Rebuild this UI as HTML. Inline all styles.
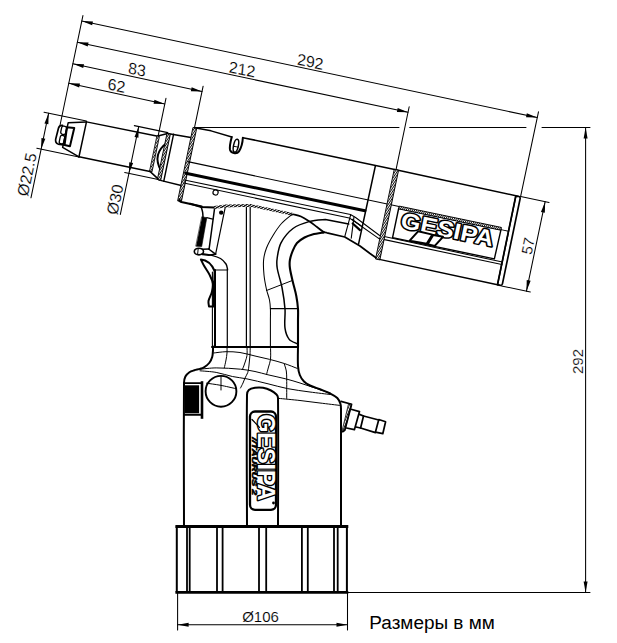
<!DOCTYPE html>
<html><head><meta charset="utf-8">
<style>
html,body{margin:0;padding:0;background:#fff;width:617px;height:643px;overflow:hidden}
svg{display:block}
.t{font-family:"Liberation Sans",sans-serif;font-size:15px;fill:#000;stroke:#fff;stroke-width:0.15px}
</style></head>
<body>
<svg width="617" height="643" viewBox="0 0 617 643" fill="none" stroke="#000" stroke-linecap="round" stroke-linejoin="round">
<defs>
<pattern id="hat" width="1.8" height="40" patternUnits="userSpaceOnUse" patternTransform="rotate(22)">
<rect width="1.8" height="40" fill="#fff" stroke="none"/><rect x="0" y="0" width="0.85" height="40" fill="#000" stroke="none"/>
</pattern>
<pattern id="hat2" width="2.2" height="40" patternUnits="userSpaceOnUse" patternTransform="rotate(58)">
<rect width="2.2" height="40" fill="#fff" stroke="none"/><rect x="0" y="0" width="1.3" height="40" fill="#000" stroke="none"/>
</pattern>
</defs>

<g transform="translate(81.9,20.5) rotate(11.8)" stroke-width="1.05">
<line x1="0" y1="0.6" x2="465.5" y2="1.9"/>
<polygon points="0.00,0.60 11.01,-1.37 10.99,2.63" fill="#000" stroke="none"/>
<polygon points="465.50,1.90 454.49,3.87 454.51,-0.13" fill="#000" stroke="none"/>
<line x1="0" y1="22.2" x2="338" y2="23.1"/>
<polygon points="0.00,22.20 11.01,20.23 10.99,24.23" fill="#000" stroke="none"/>
<polygon points="338.00,23.10 326.99,25.07 327.01,21.07" fill="#000" stroke="none"/>
<line x1="0" y1="44.2" x2="132.1" y2="45"/>
<polygon points="0.00,44.20 11.01,42.27 10.99,46.27" fill="#000" stroke="none"/>
<polygon points="132.10,45.00 121.09,46.93 121.11,42.93" fill="#000" stroke="none"/>
<line x1="0" y1="64" x2="98.2" y2="64.8"/>
<polygon points="0.00,64.00 11.02,62.09 10.98,66.09" fill="#000" stroke="none"/>
<polygon points="98.20,64.80 87.18,66.71 87.22,62.71" fill="#000" stroke="none"/>
<line x1="0" y1="-5" x2="0" y2="107"/>
<line x1="98.2" y1="59" x2="98.2" y2="97.5"/>
<line x1="132.1" y1="39.5" x2="132.1" y2="82"/>
<line x1="338" y1="17.5" x2="338" y2="82"/>
<line x1="465.6" y1="-4" x2="465.4" y2="82.6"/>
<g class="t" stroke="none" style="font-size:16px">
<text transform="translate(232.6,-0.8) skewX(6)" text-anchor="middle">292</text>
<text transform="translate(167.5,20.6) skewX(6)" text-anchor="middle">212</text>
<text transform="translate(64.5,42.2) skewX(6)" text-anchor="middle">83</text>
<text transform="translate(47.8,62.2) skewX(6)" text-anchor="middle">62</text>
</g>
<line x1="-18.3" y1="97.5" x2="25" y2="97.5"/>
<line x1="-18" y1="134.2" x2="25" y2="134.2"/>
<line x1="-13.6" y1="97.5" x2="-13.6" y2="184"/>
<polygon points="-13.60,97.50 -11.60,108.50 -15.60,108.50" fill="#000" stroke="none"/>
<polygon points="-13.60,134.20 -15.60,123.20 -11.60,123.20" fill="#000" stroke="none"/>
<text class="t" stroke="none" style="font-size:16px" transform="translate(-16.8,162) rotate(-90)" text-anchor="middle">Ø22.5</text>
<line x1="72.8" y1="92.2" x2="107" y2="92.2"/>
<line x1="73" y1="140" x2="108.5" y2="140"/>
<line x1="77.3" y1="92.2" x2="77.3" y2="182"/>
<polygon points="77.30,92.20 79.30,103.20 75.30,103.20" fill="#000" stroke="none"/>
<polygon points="77.30,140.00 75.30,129.00 79.30,129.00" fill="#000" stroke="none"/>
<text class="t" stroke="none" style="font-size:16px" transform="translate(74.6,168.5) rotate(-90)" text-anchor="middle">Ø30</text>
<line x1="465.5" y1="82.6" x2="494.5" y2="82.6"/>
<line x1="465" y1="174" x2="494.5" y2="174"/>
<line x1="490.5" y1="82.6" x2="490.5" y2="174"/>
<polygon points="490.50,82.60 492.50,93.60 488.50,93.60" fill="#000" stroke="none"/>
<polygon points="490.50,174.00 488.50,163.00 492.50,163.00" fill="#000" stroke="none"/>
<text class="t" stroke="none" transform="translate(488,129.5) rotate(-90)" text-anchor="middle">57</text>
<!-- nozzle -->
<path d="M2.5,106.6 Q-0.6,107 -0.9,110 L-1.4,121.5 Q-1.2,125.4 2,125.8 L7.5,125.5" stroke-width="1.7"/>
<rect x="2.1" y="107.1" width="5" height="8.3" rx="2" stroke-width="1.3"/>
<rect x="2.6" y="116.5" width="4.5" height="8.4" rx="1.8" stroke-width="1.3"/>
<path d="M7.2,107.5 L14.5,106.8 L14,125.5 L8.5,125.4 Z" stroke-width="2"/>
<!-- cap -->
<path d="M25.2,98.3 L7.5,102.8 L7.1,128.2 L25,134" stroke-width="1.5"/>
<line x1="25.2" y1="98.3" x2="25" y2="134" stroke-width="1.5"/>
<!-- nose body -->
<line x1="25.2" y1="98.3" x2="98" y2="97.7" stroke-width="1.5"/>
<line x1="25" y1="134" x2="97.5" y2="133.8" stroke-width="1.5"/>
<!-- flange -->
<path d="M98,97.6 L107,93 L132,92.3" stroke-width="1.5"/>
<path d="M97.5,133.8 L108.5,140.4 L132,141.2" stroke-width="1.5"/>
<rect x="97.4" y="97.6" width="2.2" height="36" fill="url(#hat)" stroke-width="0.8"/>
<path d="M108.8,101.7 Q95.5,116.4 108,130.6" stroke-width="1.9"/>
<rect x="106.8" y="93.2" width="3" height="47" fill="url(#hat)" stroke-width="0.9"/>
<line x1="113" y1="92.5" x2="113" y2="140.6" stroke-width="1.4"/>
<!-- barrel -->
<rect x="131" y="82" width="3.4" height="75" fill="url(#hat)" stroke-width="0.9"/>
<path d="M132.3,82 L149,81.6 L170.5,83.3" stroke-width="1.5"/>
<path d="M181.5,81.8 L204,81.7 L339,81.8 L463,82.8" stroke-width="1.5"/>
<path d="M170.5,83.3 C170.2,88 170,93 171.5,96.5 C173,99.3 179,99.6 180.5,96 C181.8,92.5 182.2,86 181.5,81.8" stroke-width="2"/>
<ellipse cx="176.4" cy="91" rx="2.4" ry="6.6" stroke-width="1.5"/>
<line x1="174" y1="92" x2="178.8" y2="92" stroke-width="1"/>
<line x1="132.5" y1="116.5" x2="348.5" y2="117.3" stroke-width="1.05"/>
<line x1="133" y1="128.3" x2="316" y2="128.3" stroke-width="2.9"/>
<path d="M133,135.2 L302.6,135 L308.2,136.9 L335.4,149.6 L461,150.5" stroke-width="1.05"/>
<path d="M133,138.3 L302,138.6 L308,141 L335,152.6 L461,153" stroke-width="1.05"/>
<circle cx="166" cy="141" r="2.6" stroke-width="1.2"/>
<line x1="302.8" y1="135.5" x2="301.5" y2="157.5" stroke-width="1.1"/>
<line x1="306.5" y1="136.8" x2="308.2" y2="158.1" stroke-width="1.1"/>
<line x1="306.6" y1="143.3" x2="315.1" y2="148.3" stroke-width="2.2"/>
<path d="M305,139.3 L315.5,144" stroke-width="1"/>
<path d="M132,155 Q132.3,157 134.5,157.3 L155.4,157.6" stroke-width="2"/>
<line x1="317" y1="82.4" x2="316.5" y2="162.5" stroke-width="1.5"/>
<rect x="336.6" y="81.8" width="4" height="91.6" fill="url(#hat)" stroke-width="0.9"/>
<!-- rear cylinder -->
<line x1="340" y1="173" x2="462" y2="173.6" stroke-width="1.5"/>
<path d="M460.6,83.3 L463.8,82.9 Q465.4,83 465.4,85 L465.5,171.8 Q465.4,173.6 463.7,173.7 L460.8,173.6 Z" stroke-width="1.7"/>
<line x1="460.7" y1="83.5" x2="460.9" y2="173.4" stroke-width="1.4"/>
<path d="M452.5,119 L348.5,119 L348.5,149 L452.5,149 L453,119" stroke-width="1.4"/>
<rect x="349" y="116.8" width="104" height="2.8" fill="url(#hat)" stroke-width="0.9"/>
<line x1="453" y1="119" x2="460.6" y2="119" stroke-width="1"/>
<g transform="translate(353.5,137.5)"><text x="0" y="0" font-family="Liberation Sans" font-weight="bold" font-size="22.5" fill="#fff" stroke="#000" stroke-width="3" paint-order="stroke" textLength="94" lengthAdjust="spacingAndGlyphs">GESIPA</text></g>
<g fill="#fff" stroke-width="2"><polygon points="372.2,137.6 386.9,137.9 383.1,148 365.9,148.5"/><polygon points="387.8,138.2 397.7,137.9 391.5,148.5 384.2,148.4"/></g>

</g>

<g stroke-width="1.05">
<line x1="194.7" y1="127.4" x2="399" y2="127.4"/>
<line x1="409.7" y1="127.4" x2="526" y2="127.4"/>
<line x1="542" y1="127.4" x2="590" y2="127.4"/>
<line x1="348" y1="592.5" x2="590" y2="592.5"/>
<line x1="585.6" y1="127.4" x2="585.6" y2="592.5"/>
<polygon points="585.60,127.40 587.60,138.40 583.60,138.40" fill="#000" stroke="none"/>
<polygon points="585.60,592.50 583.60,581.50 587.60,581.50" fill="#000" stroke="none"/>
<text class="t" stroke="none" transform="translate(583.2,361.5) rotate(-90)" text-anchor="middle">292</text>
<line x1="177.6" y1="593" x2="177.6" y2="630"/>
<line x1="347.5" y1="593" x2="347.5" y2="630"/>
<line x1="177.6" y1="624.8" x2="347.5" y2="624.8"/>
<polygon points="177.60,624.80 188.60,622.80 188.60,626.80" fill="#000" stroke="none"/>
<polygon points="347.50,624.80 336.50,626.80 336.50,622.80" fill="#000" stroke="none"/>
<text class="t" stroke="none" x="260.5" y="621.8" text-anchor="middle">Ø106</text>
</g>

<g stroke-width="2"><line x1="176.8" y1="526.5" x2="176.8" y2="592.3"/><line x1="346.9" y1="526.5" x2="346.9" y2="592.3"/><line x1="176.8" y1="526.5" x2="346.9" y2="526.5" stroke-width="2.8" stroke-linecap="square"/><line x1="176.8" y1="592.3" x2="346.9" y2="592.3" stroke-width="2.8" stroke-linecap="square"/><g stroke-width="1.8">
<line x1="187" y1="527" x2="187" y2="592"/>
<line x1="189.7" y1="527" x2="189.7" y2="592"/>
<line x1="217" y1="527" x2="217" y2="592"/>
<line x1="222.6" y1="527" x2="222.6" y2="592"/>
<line x1="259" y1="527" x2="259" y2="592"/>
<line x1="266.2" y1="527" x2="266.2" y2="592"/>
<line x1="301.9" y1="527" x2="301.9" y2="592"/>
<line x1="307.8" y1="527" x2="307.8" y2="592"/>
<line x1="334" y1="527" x2="334" y2="592"/>
<line x1="337.7" y1="527" x2="337.7" y2="592"/>
</g></g>
<g stroke-width="2">
<path d="M184.00,526.00 C184.00,502.17 183.55,430.62 184.00,383.00 C184.02,380.79 184.44,378.41 185.40,376.50 C186.24,374.81 187.83,373.29 189.40,372.20 C190.80,371.22 192.63,370.82 194.30,370.30 C196.16,369.72 198.14,369.48 200.00,368.90 C201.37,368.48 202.80,368.07 204.00,367.30 C205.87,366.10 207.83,364.72 209.20,363.00 C210.56,361.29 211.58,359.11 212.20,357.00 C212.85,354.78 212.82,352.34 213.00,350.00 C213.09,348.84 213.00,347.08 213.00,346.50" stroke-width="2" />
<path d="M298.00,346.50 C298.00,349.75 297.59,359.54 298.00,366.00 C298.19,369.04 298.71,372.20 299.80,375.00 C300.71,377.36 302.24,379.69 304.00,381.50 C305.64,383.19 307.85,384.45 310.00,385.50 C313.19,387.05 316.68,387.99 320.00,389.30 C323.45,390.66 327.00,391.84 330.30,393.50 C332.77,394.74 335.43,396.07 337.30,398.00 C338.83,399.57 339.85,401.88 340.50,404.00 C341.08,405.88 340.92,409.00 341.00,410.00" stroke-width="2" />
<line x1="341" y1="409" x2="341" y2="526"/>
<path d="M247.00,526.00 C247.00,504.17 246.42,438.57 247.00,395.00 C247.02,393.23 247.61,391.07 248.80,390.00 C250.28,388.67 252.86,388.13 255.00,387.80 C257.60,387.40 260.41,387.36 263.00,387.80 C265.74,388.26 268.51,389.26 271.00,390.50 C273.01,391.50 275.00,392.90 276.50,394.50 C277.34,395.40 277.99,396.73 278.00,398.00 C278.49,440.57 278.00,504.67 278.00,526.00" stroke-width="2" />
<rect x="250" y="411.5" width="26" height="98.3" rx="5" stroke-width="2.3"/>
<rect x="184.5" y="385.3" width="14.6" height="27.9" fill="#000" stroke="none"/>
<path d="M184,383.1 L202,383.1 M184,414.8 L202,414.8" stroke-width="1.9"/>
<line x1="202" y1="381.2" x2="202" y2="418.8" stroke-width="2.6" stroke-linecap="butt"/>
<circle cx="221" cy="391.3" r="15.4" stroke-width="1.9"/>
<line x1="221" y1="376" x2="221" y2="390" stroke-width="1"/>
</g>
<g transform="translate(256.5,414.2) rotate(90)">
<text x="0" y="-1.5" font-family="Liberation Sans" font-weight="bold" font-size="23" fill="#fff" stroke="#000" stroke-width="2.8" paint-order="stroke" textLength="86.5" lengthAdjust="spacingAndGlyphs">GESIPA</text>
<text x="23" y="4.3" font-family="Liberation Sans" font-weight="bold" font-style="italic" font-size="7.5" fill="#000" stroke="#000" stroke-width="0.6" textLength="58" lengthAdjust="spacingAndGlyphs">//TAURUS 2</text>
</g>
<line x1="252" y1="419.5" x2="259.5" y2="427.3" stroke-width="1.2"/>
<circle cx="273.5" cy="503" r="1.4" fill="#000" stroke="none"/>
<g stroke-width="1">
<path d="M213.80,353.00 C215.83,352.78 221.92,351.78 226.00,351.70 C230.66,351.61 235.39,351.82 240.00,352.50 C245.06,353.25 250.00,354.84 255.00,356.00 C259.90,357.14 264.83,358.15 269.70,359.40 C274.60,360.65 279.50,361.93 284.30,363.50 C288.67,364.93 295.05,367.58 297.20,368.40" stroke-width="1" />
<path d="M200.00,369.20 C202.70,368.98 210.79,367.90 216.20,367.90 C224.29,367.90 232.43,368.45 240.50,369.20 C245.37,369.65 250.21,370.52 255.00,371.50 C259.38,372.39 263.65,373.76 268.00,374.80 C273.95,376.23 279.97,377.38 285.90,378.90 C290.64,380.11 295.33,381.54 300.00,383.00 C305.03,384.57 310.01,386.30 315.00,388.00 C320.11,389.74 327.75,392.42 330.30,393.30" stroke-width="1" />
<path d="M200.00,370.80 C202.70,371.07 210.87,371.46 216.20,372.40 C221.67,373.36 226.95,375.35 232.40,376.50 C237.22,377.52 242.17,377.91 247.00,378.90 C254.04,380.34 261.01,382.13 268.00,383.80 C274.51,385.36 280.94,387.32 287.50,388.60 C294.94,390.05 302.49,390.96 310.00,392.00 C316.75,392.93 326.92,394.08 330.30,394.50" stroke-width="1" />
<path d="M206.50,383.20 C208.75,383.53 215.53,384.37 220.00,385.20 C225.26,386.17 233.08,388.03 235.70,388.60" stroke-width="1" />
<path d="M279.00,398.40 C282.50,398.75 293.01,399.72 300.00,400.50 C306.68,401.25 313.33,402.18 320.00,403.00 C326.87,403.85 337.17,405.08 340.60,405.50" stroke-width="1" />
<path d="M227.00,346.50 C227.00,347.58 227.16,350.84 227.00,353.00 C226.83,355.34 226.42,357.68 226.00,360.00 C225.52,362.62 224.58,366.50 224.30,367.80" stroke-width="1" />
<path d="M247.00,346.50 C247.00,347.98 247.30,352.47 247.00,355.40 C246.80,357.31 246.06,359.15 245.50,361.00 C244.99,362.68 244.40,364.35 243.80,366.00 C243.40,367.08 242.72,368.67 242.50,369.20" stroke-width="1" />
<path d="M250.20,346.50 C250.17,347.92 250.18,352.17 250.00,355.00 C249.78,358.34 249.42,361.68 249.00,365.00 C248.69,367.48 248.53,370.04 247.80,372.40 C247.19,374.37 245.86,376.10 245.00,378.00 C244.26,379.63 243.74,381.36 243.00,383.00 C242.24,384.70 240.92,387.17 240.50,388.00" stroke-width="1" />
<path d="M270.50,346.50 C270.50,348.65 270.91,355.15 270.50,359.40 C270.25,361.99 269.17,364.47 268.50,367.00 C267.84,369.50 266.83,373.25 266.50,374.50" stroke-width="1" />
<path d="M284.30,364.00 C284.63,365.17 285.92,368.62 286.30,371.00 C286.72,373.59 286.66,376.26 286.70,378.90 C286.79,385.40 286.70,395.15 286.70,398.40" stroke-width="1" />
</g>
<g stroke-width="1.2">
<line x1="215" y1="270" x2="215" y2="347" stroke-width="2"/><line x1="212.4" y1="272" x2="212.4" y2="347" stroke-width="1.1"/>
<line x1="212" y1="347" x2="298" y2="347" stroke-width="2"/>
<line x1="227.3" y1="269.4" x2="227.3" y2="347"/>
<line x1="214.6" y1="270" x2="227.6" y2="270"/>
<line x1="246.4" y1="205" x2="246.4" y2="347"/>
<line x1="250.2" y1="205" x2="250.2" y2="347"/>
<line x1="270.4" y1="308.6" x2="298" y2="308.6" stroke-width="1.1"/>
<path d="M202.00,253.60 C203.63,253.88 208.61,254.45 211.80,255.30 C214.77,256.09 217.93,256.92 220.50,258.50 C222.66,259.82 224.63,261.89 226.00,264.00 C226.99,265.53 227.33,268.50 227.60,269.40" stroke-width="1.4" />
<path d="M200.90,259.60 C201.45,260.68 203.00,263.99 204.20,266.10 C205.90,269.09 208.07,271.83 209.60,274.90 C210.97,277.67 212.52,280.61 212.90,283.60 C213.26,286.41 212.51,289.49 211.80,292.30 C211.04,295.29 209.09,298.03 208.50,301.00 C208.16,302.73 208.92,305.50 209.00,306.40 L213.6,306.4 L214.6,271 C212,265 208,260.2 200.9,259.6 Z" stroke-width="2"/>
<path d="M201.20,207.00 C201.43,207.85 202.28,210.37 202.60,212.10 C202.88,213.64 202.93,216.02 203.00,216.80" stroke-width="1.5" />
<polygon points="202.1,216.8 206.8,217.7 201.7,246.6 196.1,246.2" fill="#000" stroke="#000" stroke-width="0.6"/>
<line x1="206.8" y1="217.7" x2="212.8" y2="219.1" stroke-width="1.2"/>
<line x1="214.7" y1="207.5" x2="209.1" y2="249" stroke-width="1.5"/>
<line x1="225.4" y1="206.5" x2="215.6" y2="254.1" stroke-width="1.2"/>
<line x1="208.6" y1="249" x2="215.6" y2="254.1" stroke-width="1.5"/>
<circle cx="221.2" cy="212.6" r="2.2" fill="#000" stroke="none"/>
<ellipse cx="198.9" cy="251.6" rx="4.6" ry="3.3" stroke-width="1.6"/>
<line x1="198.2" y1="248.6" x2="197.6" y2="254.6" stroke-width="1"/>
<path d="M202.5,249.3 L208.6,249 M202.5,254.6 L209,255.3 L215.6,254.1" stroke-width="1.5"/>
<path d="M190,203.7 L201.2,207 L214.2,207.5" stroke-width="1.9"/>
<path d="M214.2,207.5 L225.4,206 L250,205.3 L293,214.3" stroke="url(#hat2)" stroke-width="2.8" stroke-linecap="butt"/>
<path d="M293.00,214.30 C294.33,214.67 298.49,215.40 301.00,216.50 C303.99,217.80 306.76,219.70 309.50,221.50 C312.09,223.20 314.51,225.15 317.00,227.00 C319.14,228.59 321.13,230.48 323.40,231.80 C324.46,232.42 326.40,232.63 327.00,232.80 L344.8,237 L360,246 L370,253.5 L376,257.7" stroke-width="1.7"/>
<path d="M292.00,214.50 C290.25,216.00 284.58,220.12 281.50,223.50 C278.35,226.95 275.75,230.99 273.30,235.00 C270.75,239.16 268.26,243.47 266.50,248.00 C265.02,251.81 263.98,255.94 263.60,260.00 C263.14,264.94 263.51,270.04 264.00,275.00 C264.48,279.87 265.45,284.72 266.50,289.50 C267.28,293.05 268.79,296.44 269.50,300.00 C270.09,302.94 270.26,305.99 270.40,309.00 C270.56,312.66 270.40,316.33 270.40,320.00 C270.40,328.83 270.40,342.08 270.40,346.50" stroke-width="1.05" />
<path d="M348.7,224 L325.4,219.5 C322.80,219.82 314.80,220.01 309.80,221.40 C304.00,223.01 297.74,224.97 293.00,228.50 C288.14,232.11 283.86,237.45 281.00,242.80 C278.60,247.29 277.97,252.87 277.20,258.00 C276.71,261.27 276.67,264.73 277.20,268.00 C278.27,274.56 280.75,280.93 282.00,287.50 C283.35,294.60 284.47,301.80 285.00,309.00 C285.47,315.37 284.14,321.96 285.00,328.20 C285.54,332.09 286.91,336.44 289.20,339.40 C290.88,341.57 295.62,342.90 296.90,343.60" stroke-width="1.5"/>
<path d="M324.00,232.40 C322.07,232.73 316.18,233.41 312.40,234.40 C309.68,235.11 306.95,236.13 304.50,237.50 C301.82,239.00 299.02,240.74 297.00,243.00 C295.12,245.11 293.91,247.94 292.80,250.60 C291.54,253.61 290.43,256.80 289.90,260.00 C289.47,262.60 289.55,265.37 289.90,268.00 C290.52,272.60 291.76,277.15 292.80,281.70 C293.89,286.48 295.38,291.19 296.30,296.00 C297.12,300.29 297.69,304.65 298.00,309.00 C298.26,312.65 298.00,316.33 298.00,320.00 C298.00,329.00 298.00,342.50 298.00,347.00" stroke-width="2.1" />
<line x1="266.5" y1="290.5" x2="291.8" y2="280.7" stroke-width="1"/>
</g>
<g stroke-width="1.7">
<path d="M349,403.6 L351.6,404.2 L344.8,430.3 L342.4,431 Z" fill="url(#hat)" stroke-width="0.8"/>
<path d="M341,401.4 L351.6,404.2 L344.8,430.3 Q343.5,432 341.4,432"/>
<path d="M351,409.3 L359.5,411.6 L354.4,429.7 L346.5,428"/>
<path d="M359.5,414.4 L363.5,416 L360.6,428 L356,427"/>
<path d="M363.5,416 L378.8,420 M360.6,428 L375.4,432.6"/>
<path d="M378.8,419.5 L385.6,421.8 L382.8,433.7 L375.4,432.2 Z"/>
</g>
<text x="369.3" y="629.3" font-family="Liberation Sans" font-size="18.8" fill="#000" stroke="none" textLength="125.5" lengthAdjust="spacingAndGlyphs">Размеры в мм</text>
</svg>
</body></html>
